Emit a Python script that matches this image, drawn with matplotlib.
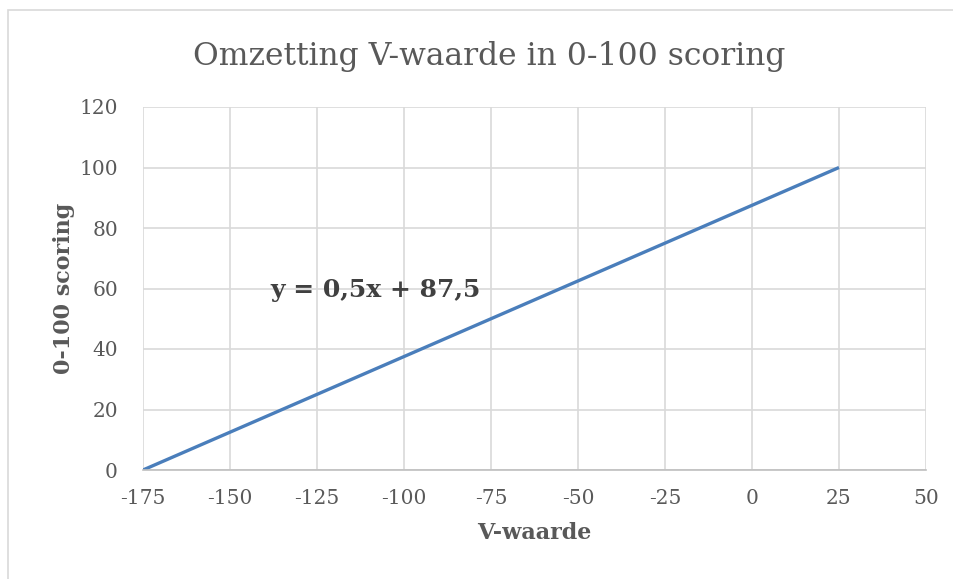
import matplotlib
matplotlib.use("Agg")
import matplotlib.pyplot as plt
from matplotlib.patches import Rectangle

# Data
v_waarde = [-175, 25]
scoring = [0, 100]
x_ticks = [-175, -150, -125, -100, -75, -50, -25, 0, 25, 50]
y_ticks = [0, 20, 40, 60, 80, 100, 120]
title = "Omzetting V-waarde in 0-100 scoring"
equation = "y = 0,5x + 87,5"

plt.rcParams['font.family'] = ['DejaVu Serif']
plt.rcParams['axes.unicode_minus'] = False
txt = '#595959'
grid = '#d9d9d9'

fig = plt.figure(figsize=(9.54, 5.79), dpi=100)
W, H = 954, 579
# outer chart frame (partially cropped)
fig.patches.append(Rectangle((8 / W, -0.1), 1.2, 1 - 10 / H + 0.1, transform=fig.transFigure,
                             fill=False, edgecolor='#d9d9d9', linewidth=1.2))

ax = fig.add_axes([143 / W, (579 - 470) / H, 783 / W, 363 / H])
ax.plot(v_waarde, scoring, color='#4a7ebb', linewidth=2.4, solid_capstyle='butt')
ax.set_xlim(-175, 50)
ax.set_ylim(0, 120)
ax.set_xticks(x_ticks)
ax.set_yticks(y_ticks)
ax.grid(True, color=grid, linewidth=1.2)
ax.set_axisbelow(True)
for s in ax.spines.values():
    s.set_visible(False)
ax.spines['bottom'].set_visible(True)
ax.spines['bottom'].set_color('#bfbfbf')
ax.spines['bottom'].set_linewidth(1.2)
ax.tick_params(length=0, labelsize=14.5, labelcolor=txt)
ax.tick_params(axis='x', pad=14)
ax.tick_params(axis='y', pad=18)

ax.set_xlabel('V-waarde', fontsize=16, fontweight='bold', color=txt, labelpad=10)
ax.set_ylabel('0-100 scoring', fontsize=16, fontweight='bold', color=txt, labelpad=3)
fig.text(489 / W, 1 - 56 / H, title, fontsize=22.6, color=txt, ha='center', va='center')
ax.text(-138.5, 59.5, equation, fontsize=18, fontweight='bold', color='#404040', ha='left', va='center')

fig.savefig('out.png', dpi=100)
